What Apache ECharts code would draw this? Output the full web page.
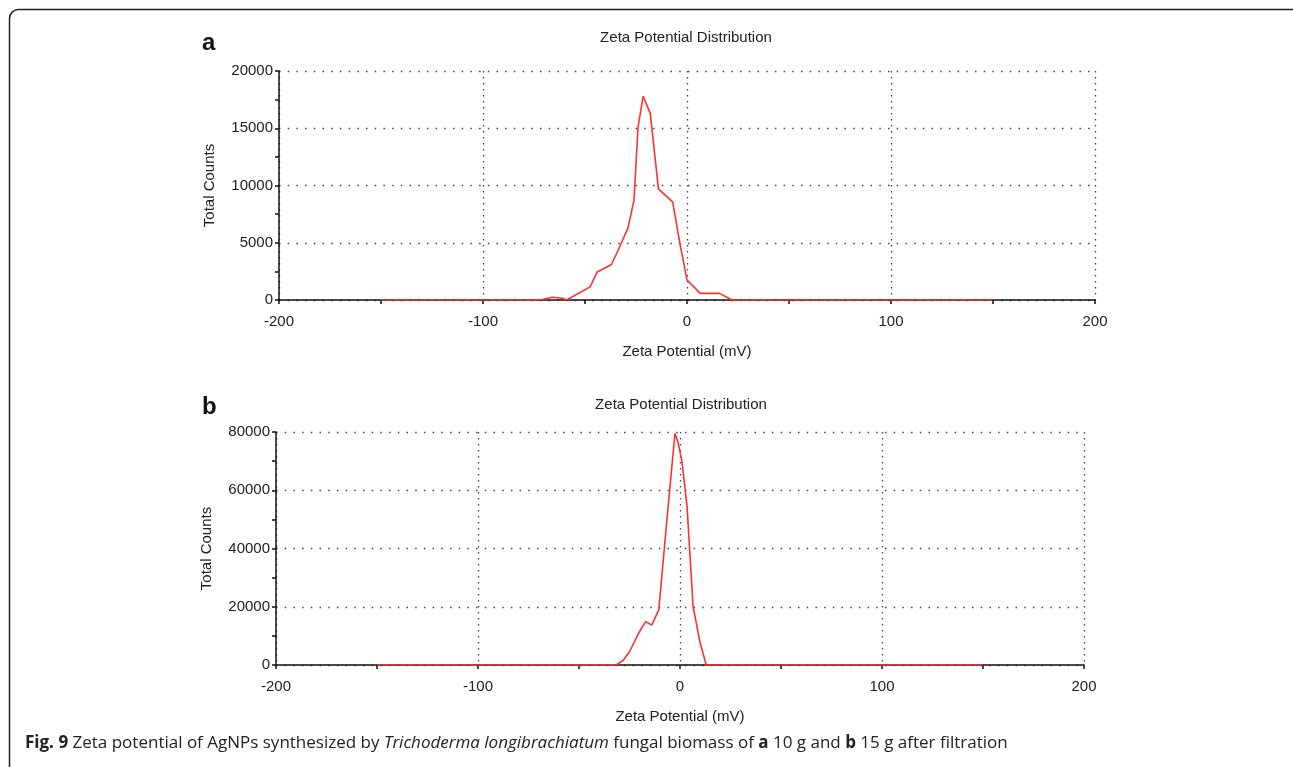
<!DOCTYPE html>
<html>
<head>
<meta charset="utf-8">
<script src="https://cdn.jsdelivr.net/npm/echarts@6/dist/echarts.min.js"></script>
<style>
  html, body { margin: 0; padding: 0; background: #fff; }
  #zeta_chart { width: 1293px; height: 767px; }
</style>
</head>
<body>
<div id="zeta_chart"></div>
<script>
// Chart data
// ------------------------------

// Panel a - 10 g biomass: [zeta potential (mV), total counts]
var zetaA = [
  [-150, 0], [-72, 0], [-66, 240], [-61, 150], [-59, 0],
  [-47.5, 1150], [-44, 2450], [-37, 3100], [-33, 4650], [-29, 6250],
  [-26, 8700], [-24, 15100], [-21.5, 17800], [-18, 16300], [-14, 9700],
  [-7, 8550], [-3.5, 4950], [0, 1750], [6.5, 580], [16, 580],
  [22, 0], [150, 0]
];

// Panel b - 15 g biomass
var zetaB = [
  [-150, 0], [-31.5, 0], [-28, 1700], [-25, 4550], [-20.5, 10900],
  [-17, 14900], [-14, 13700], [-10.5, 18900], [-6.5, 49800], [-2.5, 79500],
  [-1, 76600], [1, 69800], [3.5, 54300], [6.5, 20000], [10, 7450],
  [13, 0], [150, 0]
];

var panelLabels = ["a", "b"];
var panelTitle = "Zeta Potential Distribution";
var xName = "Zeta Potential (mV)";
var yName = "Total Counts";
var yMaxA = 20000, yStepA = 5000;
var yMaxB = 80000, yStepB = 20000;

// Setup module
// ------------------------------

var ZetaPotentialChart = (function () {
  var _zetaChart = function () {
    if (typeof echarts == "undefined") {
      console.warn("Warning - echarts.min.js is not loaded.");
      return;
    }

    var zeta_element = document.getElementById("zeta_chart");
    if (!zeta_element) return;

    var zeta_chart = echarts.init(zeta_element);

    var font = "Liberation Sans, Arial, sans-serif";
    var plain = function (v) { return String(v); };

    // Shared x axis setup
    var makeX = function (gridIndex) {
      return {
        type: "value",
        gridIndex: gridIndex,
        min: -200,
        max: 200,
        interval: 100,
        name: xName,
        nameLocation: "middle",
        nameGap: 44,
        nameTextStyle: { color: "#222", fontSize: 15, fontFamily: font },
        axisLine: { onZero: false, lineStyle: { color: "#111", width: 1.5 } },
        axisTick: { show: true, length: 4, lineStyle: { color: "#111", width: 1.5 } },
        minorTick: { show: true, splitNumber: 2, length: 4, lineStyle: { color: "#111", width: 1.5 } },
        axisLabel: { color: "#222", fontSize: 15, fontFamily: font, margin: 14, formatter: plain },
        splitLine: {
          show: true,
          lineStyle: { color: "#444", type: [1.5, 4.5], width: 1.3 }
        }
      };
    };

    // Shared y axis setup
    var makeY = function (gridIndex, max, step) {
      return {
        type: "value",
        gridIndex: gridIndex,
        min: 0,
        max: max,
        interval: step,
        name: yName,
        nameLocation: "middle",
        nameGap: 62,
        nameTextStyle: { color: "#222", fontSize: 15, fontFamily: font },
        axisLine: { show: true, onZero: false, lineStyle: { color: "#111", width: 1.5 } },
        axisTick: { show: true, length: 4, lineStyle: { color: "#111", width: 1.5 } },
        minorTick: { show: true, splitNumber: 2, length: 4, lineStyle: { color: "#111", width: 1.5 } },
        axisLabel: { color: "#222", fontSize: 15, fontFamily: font, margin: 6, formatter: plain },
        splitLine: {
          show: true,
          lineStyle: { color: "#444", type: [1.5, 7.2], width: 1.3 }
        }
      };
    };

    var seriesStyle = {
      type: "line",
      showSymbol: false,
      symbol: "none",
      animation: false,
      lineStyle: { color: "#ff3030", width: 1.6 },
      z: 5
    };

    var titleStyle = { fontSize: 15, fontWeight: "normal", color: "#222", fontFamily: font };
    var letterStyle = { fontSize: 24, fontWeight: "bold", color: "#111", fontFamily: font };

    zeta_chart.setOption({
      animation: false,
      textStyle: { fontFamily: font },

      title: [
        { text: panelTitle, left: 681, top: 25, textAlign: "center", textStyle: titleStyle },
        { text: panelTitle, left: 676, top: 392, textAlign: "center", textStyle: titleStyle },
        { text: panelLabels[0], left: 197, top: 26, textStyle: letterStyle },
        { text: panelLabels[1], left: 197, top: 390, textStyle: letterStyle },
        {
          text: "{b|Fig. 9} Zeta potential of AgNPs synthesized by {i|Trichoderma longibrachiatum} fungal biomass of {b|a} 10 g and {b|b} 15 g after filtration",
          left: 20, top: 730,
          textStyle: {
            fontSize: 17, fontWeight: "normal", color: "#222", fontFamily: "Open Sans",
            rich: {
              b: { fontSize: 17, fontWeight: "bold", color: "#222", fontFamily: "Open Sans" },
              i: { fontSize: 17, fontStyle: "italic", color: "#222", fontFamily: "Open Sans" }
            }
          }
        }
      ],

      // Frame around the figure (top and left edges, rounded corner)
      graphic: [
        {
          type: "rect",
          shape: { x: 9.5, y: 9.5, width: 1400, height: 900, r: [9, 0, 0, 0] },
          style: { fill: "none", stroke: "#222", lineWidth: 1.5 },
          silent: true
        }
      ],

      grid: [
        { left: 279, top: 71, width: 816, height: 229 },
        { left: 276, top: 432, width: 808, height: 233 }
      ],

      xAxis: [makeX(0), makeX(1)],
      yAxis: [makeY(0, yMaxA, yStepA), makeY(1, yMaxB, yStepB)],

      series: [
        Object.assign({ xAxisIndex: 0, yAxisIndex: 0, data: zetaA }, seriesStyle),
        Object.assign({ xAxisIndex: 1, yAxisIndex: 1, data: zetaB }, seriesStyle)
      ]
    });

    // Resize charts
    window.addEventListener("resize", function () {
      zeta_chart.resize();
    });
  };

  return {
    init: function () {
      _zetaChart();
    }
  };
})();

document.addEventListener("DOMContentLoaded", function () {
  ZetaPotentialChart.init();
});
</script>
</body>
</html>
